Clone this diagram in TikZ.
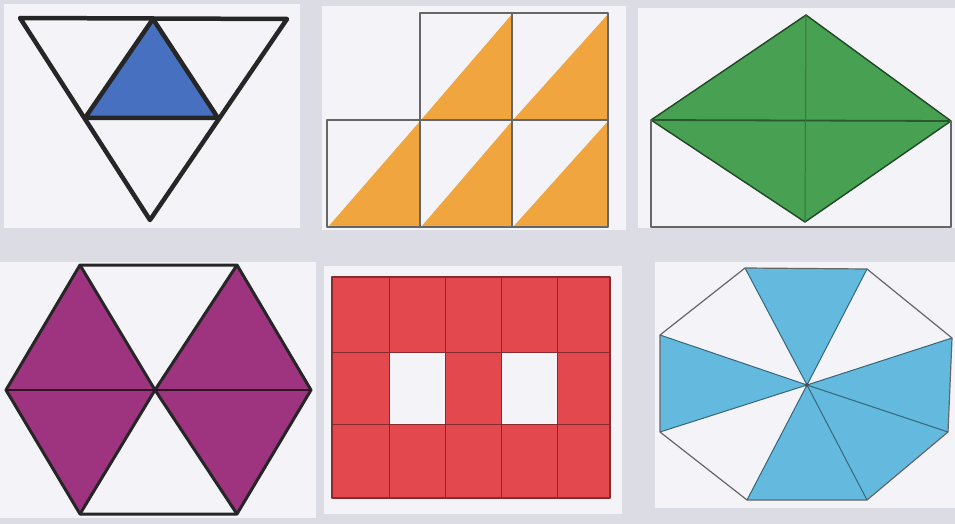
\documentclass[tikz,border=0pt]{standalone}
\begin{document}
\begin{tikzpicture}[x=1pt,y=-1pt,line join=round,
  thickline/.style={draw=black!85,line width=4.5pt}]
\definecolor{bggray}{RGB}{220,221,228}
\definecolor{paper}{RGB}{243,243,248}
\definecolor{blueA}{RGB}{72,112,192}
\definecolor{orangeA}{RGB}{240,165,62}
\definecolor{greenA}{RGB}{72,160,82}
\definecolor{purpleA}{RGB}{158,52,128}
\definecolor{redA}{RGB}{226,72,78}
\definecolor{cyanA}{RGB}{100,186,222}
\useasboundingbox (0,0) rectangle (955,524);
\fill[bggray] (0,0) rectangle (955,524);
% panels
\fill[paper] (4,4) rectangle (300,228);
\fill[paper] (322,6) rectangle (626,230);
\fill[paper] (638,8) rectangle (955,228);
\fill[paper] (0,262) rectangle (316,518);
\fill[paper] (324,266) rectangle (622,514);
\fill[paper] (655,262) rectangle (955,508);

% panel 1: inverted triangle
\fill[blueA] (153,19) -- (85,118) -- (218,118) -- cycle;
\draw[thickline] (20,18) -- (287,19) -- (150,220) -- cycle;
\draw[thickline] (153,19) -- (85,118) -- (218,118) -- cycle;

% panel 2: squares with diagonals
\foreach \x/\xr/\y in {420/512/13,512/608/13,327/420/120,420/512/120,512/608/120}{
  \pgfmathsetmacro{\yb}{\y+107}
  \fill[orangeA] (\x,\yb) -- (\xr,\y) -- (\xr,\yb) -- cycle;
  \draw[draw=paper,line width=1.2pt] (\x,\yb) -- (\xr,\y);
  \draw[draw=black!60,line width=1.3pt] (\x,\y) rectangle (\xr,\yb);
}

% panel 3: rhombus
\fill[greenA] (806,15) -- (951,121) -- (805,222) -- (651,120) -- cycle;
\draw[draw=black!55!greenA,line width=1.4pt] (806,15) -- (951,121) -- (805,222) -- (651,120) -- cycle;
\draw[draw=black!45!greenA,line width=1.8pt] (651,120) -- (951,121);
\draw[draw=black!25!greenA,line width=1pt] (806,15) -- (805,222);
\draw[draw=black!60,line width=1.2pt] (651,120) -- (651,227) -- (951,227) -- (951,121);

% panel 4: hexagon
\fill[purpleA] (80,265) -- (155,390) -- (80,514) -- (6,390) -- cycle;
\fill[purpleA] (237,265) -- (311,390) -- (237,514) -- (155,390) -- cycle;
\draw[draw=black!85,line width=3pt] (80,265) -- (237,265) -- (311,390) -- (237,514) -- (80,514) -- (6,390) -- cycle;
\draw[draw=black!85,line width=3pt] (80,265) -- (155,390) -- (237,265);
\draw[draw=black!85,line width=3pt] (80,514) -- (155,390) -- (237,514);
\draw[draw=black!70!purpleA,line width=2.2pt] (6,390) -- (311,390);

% panel 5: red grid
\fill[redA] (332,277) rectangle (610,498);
\fill[paper] (389,352) rectangle (445,424);
\fill[paper] (501,352) rectangle (557,424);
\foreach \x in {389,445,501,557}{\draw[draw=black!40!redA,line width=1pt] (\x,277) -- (\x,498);}
\foreach \y in {352,424}{\draw[draw=black!40!redA,line width=1pt] (332,\y) -- (610,\y);}
\draw[draw=black!40!redA,line width=1.2pt] (332,277) rectangle (610,498);

% panel 6: octagon
\coordinate (O) at (807,385);
\coordinate (V1) at (745,268);
\coordinate (V2) at (867,269);
\coordinate (V3) at (952,338);
\coordinate (V4) at (948,432);
\coordinate (V5) at (867,500);
\coordinate (V6) at (747,500);
\coordinate (V7) at (660,432);
\coordinate (V8) at (660,335);
\fill[cyanA] (O) -- (V1) -- (V2) -- cycle;
\fill[cyanA] (O) -- (V3) -- (V4) -- (V5) -- (V6) -- cycle;
\fill[cyanA] (O) -- (V7) -- (V8) -- cycle;
\draw[draw=black!60,line width=1.2pt] (V1) -- (V2) -- (V3) -- (V4) -- (V5) -- (V6) -- (V7) -- (V8) -- cycle;
\foreach \v in {V1,V2,V3,V4,V5,V6,V7,V8}{\draw[draw=black!45!cyanA,line width=1pt] (O) -- (\v);}
\fill[black!70] (O) circle (2pt);
\end{tikzpicture}
\end{document}
